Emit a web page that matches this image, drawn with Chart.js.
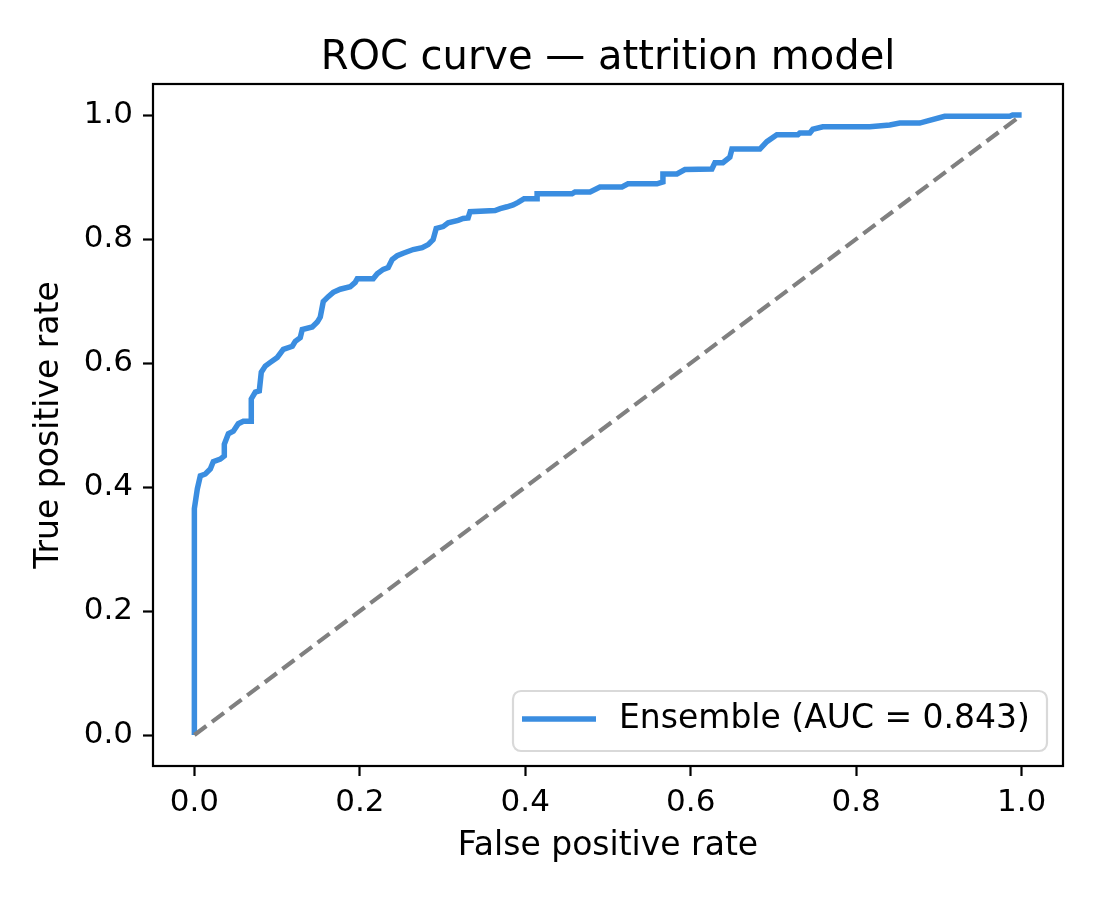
<!DOCTYPE html>
<html>
<head>
<meta charset="utf-8">
<script src="https://cdn.jsdelivr.net/npm/chart.js@4/dist/chart.umd.min.js"></script>
<style>
  html, body { margin: 0; padding: 0; background: #fff; }
  #wrap { width: 1100px; height: 900px; }
  canvas { display: block; }
</style>
</head>
<body>
<div id="wrap"><canvas id="roc" width="1100" height="900"></canvas></div>
<script>
// ROC points (false positive rate, true positive rate)
const fpr = [0, 0, 0.0036, 0.0072, 0.0133, 0.0193, 0.0229, 0.0314, 0.0362, 0.0362, 0.0411,
  0.0471, 0.0531, 0.0592, 0.0688, 0.0688, 0.0737, 0.0785, 0.0809, 0.0857, 0.0918, 0.1002,
  0.1075, 0.1184, 0.1220, 0.1280, 0.1304, 0.1425, 0.1486, 0.1522, 0.1558, 0.1618, 0.1679,
  0.1763, 0.1884, 0.1944, 0.1969, 0.2162, 0.2210, 0.2283, 0.2343, 0.2391, 0.2452, 0.2524,
  0.2645, 0.2754, 0.2826, 0.2886, 0.2923, 0.3007, 0.3068, 0.3188, 0.3249, 0.3309, 0.3333,
  0.3635, 0.3696, 0.3780, 0.3853, 0.3913, 0.3986, 0.4143, 0.4143, 0.4565, 0.4601, 0.4783,
  0.4903, 0.5169, 0.5242, 0.5592, 0.5664, 0.5664, 0.5833, 0.5930, 0.6256, 0.6292, 0.6389,
  0.6473, 0.6498, 0.6836, 0.6920, 0.7041, 0.7295, 0.7319, 0.7440, 0.7476, 0.7597, 0.8164,
  0.8406, 0.8527, 0.8768, 0.8853, 0.9070, 0.9855, 0.9891, 1.0];
const tpr = [0, 0.365, 0.397, 0.418, 0.421, 0.429, 0.441, 0.445, 0.450, 0.469, 0.486,
  0.490, 0.502, 0.506, 0.506, 0.542, 0.553, 0.555, 0.585, 0.595, 0.601, 0.609,
  0.622, 0.627, 0.635, 0.641, 0.654, 0.658, 0.666, 0.674, 0.699, 0.707, 0.714,
  0.719, 0.723, 0.730, 0.736, 0.736, 0.744, 0.751, 0.754, 0.767, 0.773, 0.777,
  0.783, 0.786, 0.791, 0.799, 0.817, 0.820, 0.826, 0.830, 0.833, 0.834, 0.844,
  0.846, 0.849, 0.852, 0.855, 0.859, 0.865, 0.865, 0.873, 0.873, 0.876, 0.876,
  0.884, 0.884, 0.889, 0.889, 0.892, 0.905, 0.905, 0.912, 0.913, 0.923, 0.923,
  0.932, 0.945, 0.945, 0.957, 0.968, 0.968, 0.971, 0.971, 0.977, 0.981, 0.981,
  0.984, 0.987, 0.987, 0.990, 0.998, 0.998, 1.0, 1.0];
const chanceX = [0, 1];
const chanceY = [0, 1];
const tickValues = [0, 0.2, 0.4, 0.6, 0.8, 1.0];
const curveLabel = 'Ensemble (AUC = 0.843)';

const FONT = "'DejaVu Sans', sans-serif";
const BLUE = '#3a8de0';

const toPoints = (xs, ys) => xs.map((x, i) => ({ x, y: ys[i] }));

// frame, title and matplotlib-like legend box
const mplDecor = {
  id: 'mplDecor',
  afterDatasetsDraw(chart) {
    const { ctx, chartArea: a } = chart;
    ctx.save();
    ctx.strokeStyle = '#000';
    ctx.lineWidth = 2.2;
    ctx.strokeRect(a.left, a.top, a.right - a.left, a.bottom - a.top);

    ctx.fillStyle = '#000';
    ctx.font = `40px ${FONT}`;
    ctx.textAlign = 'center';
    ctx.textBaseline = 'alphabetic';
    ctx.fillText('ROC curve — attrition model', (a.left + a.right) / 2, 69);

    // legend
    const bx = 513, by = 691, bw = 534, bh = 60, r = 8;
    ctx.beginPath();
    ctx.moveTo(bx + r, by);
    ctx.arcTo(bx + bw, by, bx + bw, by + bh, r);
    ctx.arcTo(bx + bw, by + bh, bx, by + bh, r);
    ctx.arcTo(bx, by + bh, bx, by, r);
    ctx.arcTo(bx, by, bx + bw, by, r);
    ctx.closePath();
    ctx.fillStyle = 'rgba(255,255,255,0.8)';
    ctx.fill();
    ctx.strokeStyle = '#d9d9d9';
    ctx.lineWidth = 2.2;
    ctx.stroke();

    ctx.beginPath();
    ctx.moveTo(522, 719);
    ctx.lineTo(596, 719);
    ctx.strokeStyle = BLUE;
    ctx.lineWidth = 5.5;
    ctx.stroke();

    ctx.fillStyle = '#000';
    ctx.font = `33px ${FONT}`;
    ctx.textAlign = 'left';
    ctx.textBaseline = 'middle';
    ctx.fillText(curveLabel, 619, 719);
    ctx.restore();
  }
};

const axisCommon = (titleText, fitSize, isX) => ({
  type: 'linear',
  min: -0.05,
  max: 1.05,
  afterBuildTicks(scale) {
    scale.ticks = tickValues.map(v => ({ value: v }));
  },
  afterFit(scale) {
    if (isX) scale.height = fitSize; else scale.width = fitSize;
  },
  border: { display: false },
  grid: {
    drawOnChartArea: false,
    drawTicks: true,
    tickLength: 10,
    tickWidth: 2.2,
    tickColor: '#000'
  },
  ticks: {
    color: '#000',
    padding: isX ? 8 : 10,
    font: { family: FONT, size: 31 },
    maxRotation: 0,
    callback: v => Number(v).toFixed(1)
  },
  title: {
    display: true,
    text: titleText,
    color: '#000',
    font: { family: FONT, size: 33 },
    padding: isX ? { top: 0, bottom: 34 } : { top: 30, bottom: 0 }
  }
});

new Chart(document.getElementById('roc').getContext('2d'), {
  type: 'scatter',
  data: {
    datasets: [
      {
        label: curveLabel,
        data: toPoints(fpr, tpr),
        showLine: true,
        borderColor: BLUE,
        backgroundColor: BLUE,
        borderWidth: 5.5,
        pointRadius: 0,
        tension: 0,
        order: 2
      },
      {
        label: 'chance',
        data: toPoints(chanceX, chanceY),
        showLine: true,
        borderColor: '#808080',
        borderWidth: 4.2,
        borderDash: [15, 7],
        pointRadius: 0,
        order: 1
      }
    ]
  },
  options: {
    responsive: false,
    animation: false,
    maintainAspectRatio: false,
    devicePixelRatio: 1,
    layout: { padding: { left: 0, right: 37, top: 84, bottom: 0 } },
    plugins: {
      legend: { display: false },
      title: { display: false },
      tooltip: { enabled: false }
    },
    scales: {
      x: axisCommon('False positive rate', 134, true),
      y: axisCommon('True positive rate', 153, false)
    }
  },
  plugins: [mplDecor]
});
</script>
</body>
</html>
